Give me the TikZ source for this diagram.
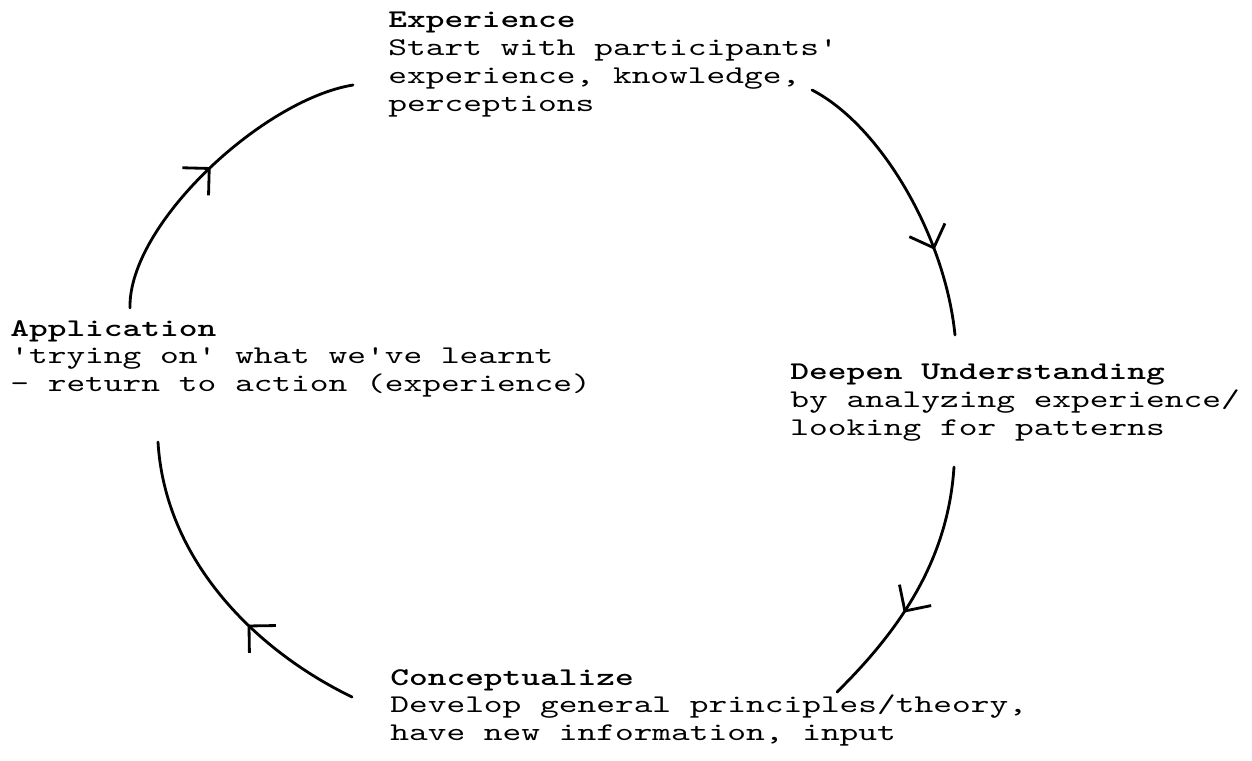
\documentclass[tikz,border=0pt]{standalone}
\usepackage{fontspec}
\newfontfamily\typefont[FakeStretch=1.4,Ligatures=TeXOff,BoldFont=lmmonolt10-bold.otf]{lmmono10-regular.otf}
\usetikzlibrary{arrows.meta,decorations.markings}

\begin{document}
\begin{tikzpicture}[x=0.02cm,y=-0.02cm,
    stage/.style={anchor=north west,align=left,inner sep=0pt,
      font=\typefont\fontsize{14.5pt}{15.8pt}\selectfont},
    turn/.style={line width=1.6pt,line cap=round,postaction={decorate},
      decoration={markings,mark=at position #1 with
        {\arrow[line width=1.6pt]{Straight Barb[length=0.38cm,width=0.76cm]}}}}]
  \useasboundingbox (0,0) rectangle (1252,761);
  % the four stages
  \node[stage] (exp) at (388,12) {\textbf{Experience}\\Start with participants'\\experience, knowledge,\\perceptions};
  \node[stage] (deep) at (790,364) {\textbf{Deepen Understanding}\\by analyzing experience/\\looking for patterns};
  \node[stage] (con) at (390,669) {\textbf{Conceptualize}\\Develop general principles/theory,\\have new information, input};
  \node[stage] (app) at (10,320) {\textbf{Application}\\'trying on' what we've learnt\\- return to action (experience)};
  % ends of the arcs
  \coordinate (appTop) at (130,308);
  \coordinate (expLeft) at (353,85);
  \coordinate (expRight) at (812,90);
  \coordinate (deepTop) at (955,335);
  \coordinate (deepBot) at (954,467);
  \coordinate (conRight) at (837,692);
  \coordinate (conLeft) at (352,697);
  \coordinate (appBot) at (158,442);
  \draw[turn=0.5] (appTop) .. controls (128,225) and (262,100) .. (expLeft);
  \draw[turn=0.7] (expRight) .. controls (880,125) and (945,235) .. (deepTop);
  \draw[turn=0.6] (deepBot) .. controls (948,560) and (900,630) .. (conRight);
  \draw[turn=0.38] (conLeft) .. controls (255,650) and (165,560) .. (appBot);
\end{tikzpicture}
\end{document}
